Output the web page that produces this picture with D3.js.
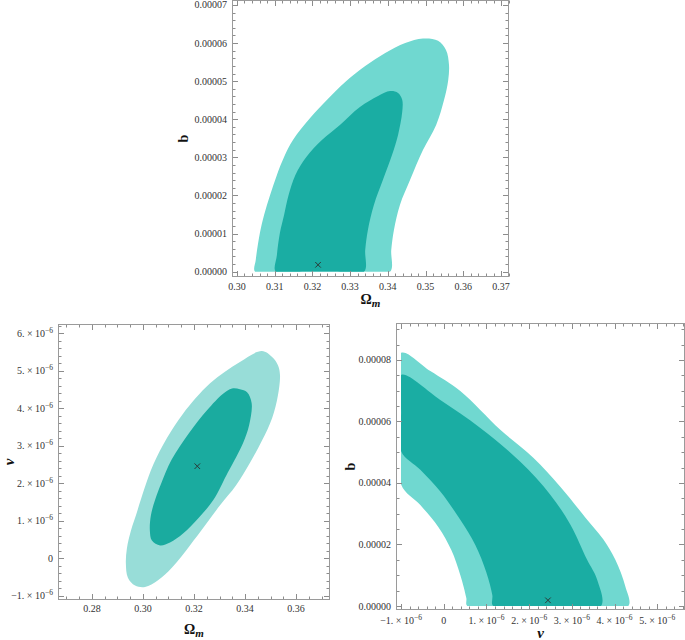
<!DOCTYPE html>
<html><head><meta charset="utf-8">
<script src="https://cdn.jsdelivr.net/npm/d3@7"></script>
<style>body{margin:0;background:#fff}svg{display:block}</style>
</head><body>
<svg id="c" width="685" height="640"></svg>
<script>
// ---------- DATA ----------
// Top panel: Omega_m vs b
const topOuter = [[0.3048,0],[0.3050,3.1e-6],[0.3061,1.02e-5],[0.3072,1.49e-5],[0.3088,2.01e-5],[0.3106,2.54e-5],[0.3125,3.01e-5],[0.3149,3.46e-5],[0.3194,4.03e-5],[0.3239,4.51e-5],[0.3287,4.98e-5],[0.3340,5.40e-5],[0.3393,5.74e-5],[0.3446,6.00e-5],[0.3493,6.12e-5],[0.3533,6.06e-5],[0.3554,5.82e-5],[0.3562,5.43e-5],[0.3560,5.03e-5],[0.3549,4.51e-5],[0.3528,3.85e-5],[0.3493,3.19e-5],[0.3459,2.41e-5],[0.3432,1.75e-5],[0.3416,1.09e-5],[0.3409,5.7e-6],[0.3406,0],[0.333,0],[0.322,0],[0.312,0]];
const topInner = [[0.3103,0],[0.3106,4.4e-6],[0.3114,1.02e-5],[0.3125,1.49e-5],[0.3137,2.01e-5],[0.3155,2.54e-5],[0.3184,3.01e-5],[0.3226,3.46e-5],[0.3273,3.85e-5],[0.3326,4.32e-5],[0.3374,4.61e-5],[0.3406,4.74e-5],[0.3427,4.69e-5],[0.3438,4.51e-5],[0.3438,4.19e-5],[0.3427,3.59e-5],[0.3411,3.06e-5],[0.3387,2.41e-5],[0.3363,1.75e-5],[0.3347,1.09e-5],[0.3340,5.7e-6],[0.3337,0],[0.326,0],[0.318,0]];
const topBest = [0.3215, 1.8e-6];
const topXTicks = [0.30,0.31,0.32,0.33,0.34,0.35,0.36,0.37];
const topXLabels = ["0.30","0.31","0.32","0.33","0.34","0.35","0.36","0.37"];
const topYTicks = [0,1e-5,2e-5,3e-5,4e-5,5e-5,6e-5,7e-5];
const topYLabels = ["0.00000","0.00001","0.00002","0.00003","0.00004","0.00005","0.00006","0.00007"];

// Bottom-left panel: Omega_m vs nu
const blOuter = [[0.3466,5.52e-6],[0.3506,5.36e-6],[0.3529,5.14e-6],[0.3537,4.88e-6],[0.3529,4.34e-6],[0.3506,3.73e-6],[0.3467,3.14e-6],[0.3420,2.55e-6],[0.3365,1.94e-6],[0.3302,1.41e-6],[0.3243,0.87e-6],[0.3184,0.34e-6],[0.3114,-0.25e-6],[0.3059,-0.59e-6],[0.3008,-0.77e-6],[0.2969,-0.73e-6],[0.2941,-0.52e-6],[0.2933,-0.14e-6],[0.2937,0.26e-6],[0.2953,0.74e-6],[0.2976,1.22e-6],[0.3006,1.86e-6],[0.3041,2.50e-6],[0.3094,3.20e-6],[0.3157,3.85e-6],[0.3263,4.66e-6],[0.3380,5.23e-6]];
const blInner = [[0.3380,4.50e-6],[0.3408,4.42e-6],[0.3426,4.13e-6],[0.3416,3.54e-6],[0.3392,3.06e-6],[0.3365,2.69e-6],[0.3333,2.29e-6],[0.3275,1.54e-6],[0.3216,1.06e-6],[0.3157,0.66e-6],[0.3106,0.42e-6],[0.3067,0.34e-6],[0.3035,0.47e-6],[0.3027,0.74e-6],[0.3031,1.14e-6],[0.3047,1.54e-6],[0.3071,1.98e-6],[0.3112,2.62e-6],[0.3180,3.33e-6],[0.3251,3.94e-6],[0.3314,4.38e-6],[0.3349,4.52e-6]];
const blBest = [0.3213, 2.45e-6];
const blXTicks = [0.28,0.30,0.32,0.34,0.36];
const blXLabels = ["0.28","0.30","0.32","0.34","0.36"];
const blYTicks = [-1e-6,0,1e-6,2e-6,3e-6,4e-6,5e-6,6e-6];
const blYLabels = ["\u22121. \u00d7 10^\u22126","0","1. \u00d7 10^\u22126","2. \u00d7 10^\u22126","3. \u00d7 10^\u22126","4. \u00d7 10^\u22126","5. \u00d7 10^\u22126","6. \u00d7 10^\u22126"];

// Bottom-right panel: nu vs b
const brOuter = [[-1.0e-6,8.23e-5],[-0.316e-6,7.64e-5],[0.386e-6,6.99e-5],[1.323e-6,5.73e-5],[2.096e-6,4.82e-5],[2.728e-6,3.88e-5],[3.314e-6,2.88e-5],[3.735e-6,2.17e-5],[4.016e-6,1.51e-5],[4.251e-6,0.64e-5],[4.321e-6,0],[3.0e-6,0],[1.8e-6,0],[0.550e-6,0],[0.527e-6,0.26e-5],[0.386e-6,1.01e-5],[0.176e-6,1.82e-5],[-0.129e-6,2.57e-5],[-0.550e-6,3.28e-5],[-1.0e-6,3.95e-5],[-1.0e-6,6.0e-5]];
const brInner = [[-1.0e-6,7.51e-5],[-0.082e-6,6.70e-5],[0.855e-6,5.79e-5],[1.792e-6,4.69e-5],[2.494e-6,3.62e-5],[2.963e-6,2.65e-5],[3.354e-6,1.51e-5],[3.588e-6,0.87e-5],[3.681e-6,0],[2.5e-6,0],[1.159e-6,0],[1.136e-6,0.36e-5],[0.995e-6,1.10e-5],[0.738e-6,1.98e-5],[0.386e-6,2.80e-5],[-0.082e-6,3.72e-5],[-0.55e-6,4.43e-5],[-1.0e-6,5.03e-5],[-1.0e-6,6.3e-5]];
const brBest = [2.44e-6, 1.85e-6];
const brXTicks = [-1e-6,0,1e-6,2e-6,3e-6,4e-6,5e-6];
const brXLabels = ["\u22121. \u00d7 10^\u22126","0","1. \u00d7 10^\u22126","2. \u00d7 10^\u22126","3. \u00d7 10^\u22126","4. \u00d7 10^\u22126","5. \u00d7 10^\u22126"];
const brYTicks = [0,2e-5,4e-5,6e-5,8e-5];
const brYLabels = ["0.00000","0.00002","0.00004","0.00006","0.00008"];

// ---------- DRAW ----------
const svg = d3.select('#c');
const FONT = '"Liberation Serif","Times New Roman",serif';

function addLabel(sel, str){
  const parts = str.split('^');
  sel.append('tspan').text(parts[0]);
  if (parts.length > 1) sel.append('tspan').attr('dy', -4).attr('font-size', 7.5).text(parts[1]);
}

function panel(p){
  const x = d3.scaleLinear().domain(p.xDomain).range([p.left, p.right]);
  const y = d3.scaleLinear().domain(p.yDomain).range([p.bottom, p.top]);
  const g = svg.append('g');
  const cid = 'clip' + p.id;
  const cx0 = p.cutX != null ? x(p.cutX) : p.left;
  const cy0 = p.cutY != null ? y(p.cutY) : p.bottom;
  svg.append('clipPath').attr('id', cid).append('rect')
    .attr('x', cx0).attr('y', p.top).attr('width', p.right - cx0).attr('height', cy0 - p.top);
  const line = d3.line().x(d => x(d[0])).y(d => y(d[1])).curve(d3.curveCatmullRomClosed.alpha(0.5));
  g.append('path').attr('d', line(p.outer)).attr('fill', p.light).attr('clip-path', `url(#${cid})`);
  g.append('path').attr('d', line(p.inner)).attr('fill', p.dark).attr('clip-path', `url(#${cid})`);
  g.append('path').attr('transform', `translate(${x(p.best[0])},${y(p.best[1])})`)
    .attr('d', d3.symbol(d3.symbolX, 22)()).attr('fill', 'none').attr('stroke', '#2a3a38').attr('stroke-width', 1);

  const L = Math.round(p.left) + 0.5, R = Math.round(p.right) - 0.5, T = Math.round(p.top) + 0.5, B = Math.round(p.bottom) - 0.5;
  const tk = g.append('g').attr('stroke', '#8c8c8c').attr('stroke-width', 1);
  function minors(dom, step){
    const out = [];
    const k0 = Math.ceil(dom[0] / step - 1e-9), k1 = Math.floor(dom[1] / step + 1e-9);
    for (let k = k0; k <= k1; k++) out.push(k * step);
    return out;
  }
  const xMin = minors(p.xDomain, p.xMinor), yMin = minors(p.yDomain, p.yMinor);
  xMin.forEach(v => {
    const xx = Math.round(x(v)) + 0.5;
    tk.append('line').attr('x1', xx).attr('x2', xx).attr('y1', B).attr('y2', B - 3);
    tk.append('line').attr('x1', xx).attr('x2', xx).attr('y1', T).attr('y2', T + 3);
  });
  yMin.forEach(v => {
    const yy = Math.round(y(v)) + 0.5;
    tk.append('line').attr('y1', yy).attr('y2', yy).attr('x1', L).attr('x2', L + 3);
    tk.append('line').attr('y1', yy).attr('y2', yy).attr('x1', R).attr('x2', R - 3);
  });
  p.xTicks.forEach(v => {
    const xx = Math.round(x(v)) + 0.5;
    tk.append('line').attr('x1', xx).attr('x2', xx).attr('y1', B).attr('y2', B - 5.5);
    tk.append('line').attr('x1', xx).attr('x2', xx).attr('y1', T).attr('y2', T + 5.5);
  });
  p.yTicks.forEach(v => {
    const yy = Math.round(y(v)) + 0.5;
    tk.append('line').attr('y1', yy).attr('y2', yy).attr('x1', L).attr('x2', L + 5.5);
    tk.append('line').attr('y1', yy).attr('y2', yy).attr('x1', R).attr('x2', R - 5.5);
  });
  g.append('rect').attr('x', L).attr('y', T).attr('width', R - L).attr('height', B - T)
    .attr('fill', 'none').attr('stroke', '#9a9a9a').attr('stroke-width', 1);

  const lab = g.append('g').attr('font-family', FONT).attr('font-size', 10).attr('fill', '#333');
  p.xTicks.forEach((v, i) => {
    const t = lab.append('text').attr('x', x(v)).attr('y', p.bottom + p.xLabOff).attr('text-anchor', 'middle');
    addLabel(t, p.xLabels[i]);
  });
  p.yTicks.forEach((v, i) => {
    const t = lab.append('text').attr('x', p.left - 5).attr('y', y(v) + 3.5).attr('text-anchor', 'end');
    addLabel(t, p.yLabels[i]);
  });

  const xt = g.append('text').attr('x', (p.left + p.right) / 2).attr('y', p.xTitleY)
    .attr('text-anchor', 'middle').attr('font-family', FONT).attr('font-weight', 'bold').attr('fill', '#111');
  p.xTitle(xt);
  const yt = g.append('text').attr('transform', `translate(${p.yTitleX},${(p.top + p.bottom) / 2}) rotate(-90)`)
    .attr('text-anchor', 'middle').attr('font-family', FONT).attr('font-weight', 'bold').attr('fill', '#111');
  p.yTitle(yt);
}

const omegaTitle = t => {
  t.append('tspan').attr('font-size', 14).text('\u03a9');
  t.append('tspan').attr('font-size', 11).attr('font-style', 'italic').attr('dy', 3).text('m');
};
const bTitle = t => { t.attr('font-size', 14).text('b'); };
const nuTitle = t => { t.attr('font-size', 15).attr('font-style', 'italic').text('\u03bd'); };

panel({id: 'top', left: 232, right: 509, top: 0, bottom: 277,
  xDomain: [0.2987, 0.3721], yDomain: [-1.4e-6, 7.13e-5], xMinor: 0.002, yMinor: 2e-6,
  xTicks: topXTicks, xLabels: topXLabels, yTicks: topYTicks, yLabels: topYLabels,
  outer: topOuter, inner: topInner, best: topBest, cutY: 0,
  light: '#70d8d0', dark: '#1aada3', xLabOff: 13, xTitleY: 304, yTitleX: 188,
  xTitle: omegaTitle, yTitle: bTitle});

panel({id: 'bl', left: 58, right: 330, top: 324, bottom: 600,
  xDomain: [0.2667, 0.3733], yDomain: [-1.115e-6, 6.24e-6], xMinor: 0.005, yMinor: 2e-7,
  xTicks: blXTicks, xLabels: blXLabels, yTicks: blYTicks, yLabels: blYLabels,
  outer: blOuter, inner: blInner, best: blBest,
  light: '#98ddd8', dark: '#1aab9f', xLabOff: 12, xTitleY: 634, yTitleX: 14,
  xTitle: omegaTitle, yTitle: nuTitle});

panel({id: 'br', left: 396, right: 685, top: 323, bottom: 610,
  xDomain: [-1.12e-6, 5.65e-6], yDomain: [-1.3e-6, 9.2e-5], xMinor: 2e-7, yMinor: 5e-6,
  xTicks: brXTicks, xLabels: brXLabels, yTicks: brYTicks, yLabels: brYLabels,
  outer: brOuter, inner: brInner, best: brBest, cutX: -1e-6, cutY: 0,
  light: '#70d8d0', dark: '#1aada3', xLabOff: 14, xTitleY: 638, yTitleX: 355,
  xTitle: nuTitle, yTitle: bTitle});
</script>
</body></html>
